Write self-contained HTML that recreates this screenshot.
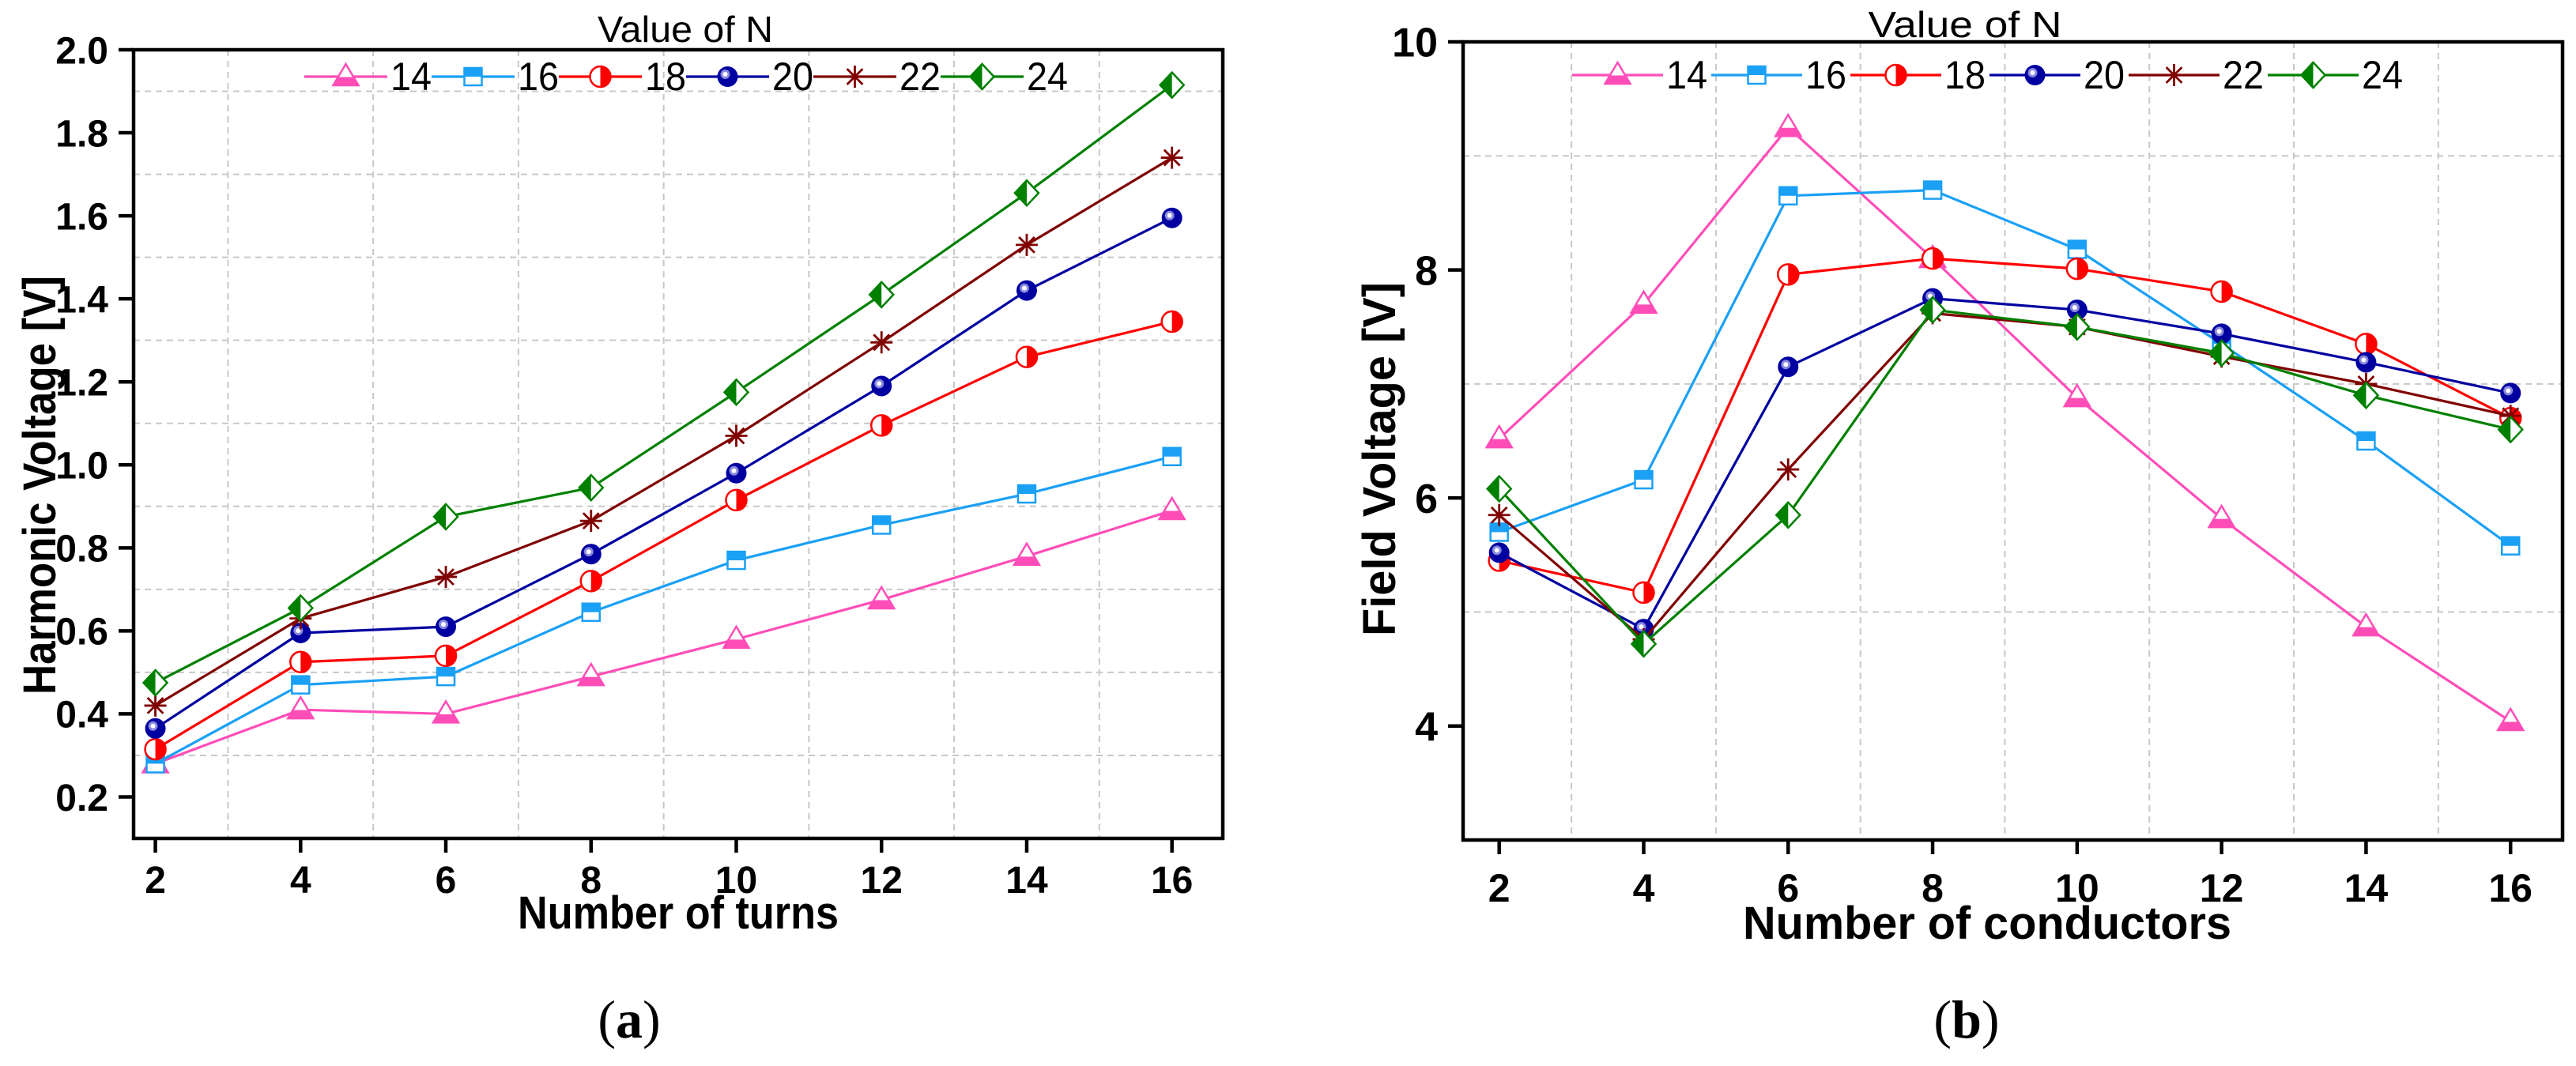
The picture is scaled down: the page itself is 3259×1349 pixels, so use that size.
<!DOCTYPE html>
<html><head><meta charset="utf-8">
<style>
html,body{margin:0;padding:0;background:#fff;}
svg{display:block;}
text{font-family:"Liberation Sans Narrow","Liberation Sans",sans-serif;}
</style></head>
<body>
<svg id="fig" width="3259" height="1349" viewBox="0 0 3259 1349" xmlns="http://www.w3.org/2000/svg"></svg>
<script>
// ---- data ----
const xValues = [2,4,6,8,10,12,14,16];
const seriesNames = ["14","16","18","20","22","24"];
const seriesColors = ["#ff4db8","#1aa0f5","#ff0000","#0000a0","#800000","#008000"];
const harm14 = [0.28,0.41,0.40,0.49,0.58,0.675,0.78,0.89];
const harm16 = [0.28,0.47,0.49,0.645,0.77,0.855,0.93,1.02];
const harm18 = [0.315,0.525,0.54,0.72,0.915,1.095,1.26,1.345];
const harm20 = [0.365,0.595,0.61,0.785,0.98,1.19,1.42,1.595];
const harm22 = [0.42,0.63,0.73,0.865,1.07,1.295,1.53,1.74];
const harm24 = [0.475,0.655,0.875,0.945,1.175,1.41,1.655,1.915];
const field14 = [6.52,7.70,9.25,8.10,6.88,5.82,4.87,4.04];
const field16 = [5.70,6.16,8.65,8.70,8.18,7.35,6.50,5.58];
const field18 = [5.45,5.17,7.96,8.10,8.01,7.81,7.35,6.70];
const field20 = [5.52,4.85,7.15,7.75,7.65,7.44,7.19,6.92];
const field22 = [5.85,4.76,6.25,7.62,7.50,7.24,7.00,6.72];
const field24 = [6.08,4.72,5.85,7.65,7.50,7.27,6.90,6.60];
const harmTicks = ["0.2","0.4","0.6","0.8","1.0","1.2","1.4","1.6","1.8","2.0"];
const fieldTicks = ["4","6","8","10"];
const xTicks = ["2","4","6","8","10","12","14","16"];

const NS="http://www.w3.org/2000/svg";
const svg=document.getElementById('fig');
function el(tag,attrs,parent){const e=document.createElementNS(NS,tag);for(const k in attrs)e.setAttribute(k,attrs[k]);(parent||svg).appendChild(e);return e;}

function drawChart(cfg){
  const g=el('g',{});
  
  
  const L=cfg.L,R=cfg.R,T=cfg.T,B=cfg.B;
  const sx=v=>L+(v-cfg.xmin)/(cfg.xmax-cfg.xmin)*(R-L);
  const sy=v=>B-(v-cfg.ymin)/(cfg.ymax-cfg.ymin)*(B-T);
  // grid
  const grid=el('g',{stroke:'#c8c8c8','stroke-width':2,'stroke-dasharray':'8,6'},g);
  
  
  for(let x=3;x<=15;x+=2) el('line',{x1:sx(x),x2:sx(x),y1:T,y2:B},grid);
  cfg.ygrid.forEach(v=>el('line',{x1:L,x2:R,y1:sy(v),y2:sy(v)},grid));
  // series
  cfg.data.forEach((arr,si)=>{
    const c=seriesColors[si];
    const sg=el('g',{},g);
    
    
    const pts=arr.map((v,i)=>sx(xValues[i])+','+sy(v)).join(' ');
    el('polyline',{points:pts,fill:'none',stroke:c,'stroke-width':3.2},sg);
    arr.forEach((v,i)=>{
      const m=marker(si,sx(xValues[i]),sy(v),sg);
      
      
    });
  });
  // frame
  const fr=el('rect',{x:L,y:T,width:R-L,height:B-T,fill:'none',stroke:'#000','stroke-width':4.5},g);
  
  
  // y ticks
  cfg.yticks.forEach(t=>{
    const y=sy(parseFloat(t));
    el('line',{x1:L-19,x2:L,y1:y,y2:y,stroke:'#000','stroke-width':4.5},g);
    const tx=el('text',{x:L-32,y:y+cfg.yfs*0.36,'text-anchor':'end','font-size':cfg.yfs,'font-weight':'bold'},g);
    tx.textContent=t;
    
    
  });
  xTicks.forEach(t=>{
    const x=sx(parseFloat(t));
    el('line',{x1:x,x2:x,y1:B,y2:B+18,stroke:'#000','stroke-width':4.5},g);
    const tx=el('text',{x:x,y:cfg.xlabY,'text-anchor':'middle','font-size':cfg.xfs,'font-weight':'bold'},g);
    tx.textContent=t;
    
    
  });
  // axis titles
  const xt=el('text',{x:cfg.xtX,y:cfg.xtY,'text-anchor':'middle','font-size':58,'font-weight':'bold',textLength:cfg.xtLen,lengthAdjust:'spacingAndGlyphs'},g);
  xt.textContent=cfg.xtitle;
  
  
  const yt=el('text',{x:0,y:0,'text-anchor':'middle','font-size':58,'font-weight':'bold',textLength:cfg.ytLen,lengthAdjust:'spacingAndGlyphs',transform:'translate('+cfg.ytX+','+cfg.ytY+') rotate(-90)'},g);
  yt.textContent=cfg.ytitle;
  
  
  // legend
  const lt=el('text',{x:cfg.legTitleX,y:cfg.legTitleY,'text-anchor':'middle','font-size':46,textLength:cfg.legTitleLen,lengthAdjust:'spacingAndGlyphs'},g);
  lt.textContent='Value of N';
  
  
  seriesNames.forEach((n,si)=>{
    const lg=el('g',{},g);
    
    
    const x0=cfg.legX+si*cfg.legStep, y0=cfg.legY;
    el('line',{x1:x0,x2:x0+cfg.legLine,y1:y0,y2:y0,stroke:seriesColors[si],'stroke-width':3.2},lg);
    marker(si,x0+cfg.legLine/2,y0,lg);
    const t=el('text',{x:x0+cfg.legLine+4,y:y0+17,'font-size':50,textLength:52,lengthAdjust:'spacingAndGlyphs'},lg);
    t.textContent=n;
  });
  // caption
  const cap=el('text',{x:cfg.capX,y:1313,'text-anchor':'middle','font-size':68,'font-family':'"Liberation Serif",serif'},g);
  cap.style.fontFamily='"Liberation Serif",serif';
  cap.innerHTML='(<tspan font-weight="bold">'+cfg.cap+'</tspan>)';
  
  
}

function marker(si,x,y,parent){
  const c=seriesColors[si];
  const g=el('g',{},parent);
  const r=13;
  if(si===0){ // triangle bottom half filled
    el('polygon',{points:`${x},${y-r-3} ${x-r-3},${y+r-2} ${x+r+3},${y+r-2}`,fill:'#fff',stroke:c,'stroke-width':2.5},g);
    el('polygon',{points:`${x-r/2-3},${y+0.5} ${x+r/2+3},${y+0.5} ${x+r+3},${y+r-2} ${x-r-3},${y+r-2}`,fill:c},g);
  } else if(si===1){ // square top half filled
    el('rect',{x:x-11,y:y-11,width:22,height:22,fill:'#fff',stroke:c,'stroke-width':2.5},g);
    el('rect',{x:x-11,y:y-11,width:22,height:11,fill:c},g);
  } else if(si===2){ // circle right half filled
    el('circle',{cx:x,cy:y,r:r,fill:'#fff',stroke:c,'stroke-width':2.5},g);
    el('path',{d:`M${x},${y-r} A${r},${r} 0 0 1 ${x},${y+r} Z`,fill:c},g);
  } else if(si===3){ // ball
    el('circle',{cx:x,cy:y,r:r,fill:c},g);
    el('circle',{cx:x-3,cy:y-3,r:6,fill:'#8888dd'},g);
    el('circle',{cx:x-3,cy:y-3,r:3,fill:'#fff'},g);
  } else if(si===4){ // asterisk
    let d='';
    for(let k=0;k<4;k++){const a=k*Math.PI/4;const dx=14*Math.cos(a),dy=14*Math.sin(a);d+=`M${x-dx},${y-dy}L${x+dx},${y+dy}`;}
    el('path',{d:d,stroke:c,'stroke-width':2.8,fill:'none'},g);
  } else { // diamond left half filled
    el('polygon',{points:`${x},${y-16} ${x+15},${y} ${x},${y+16} ${x-15},${y}`,fill:'#fff',stroke:c,'stroke-width':2.5},g);
    el('polygon',{points:`${x},${y-16} ${x},${y+16} ${x-15},${y}`,fill:c},g);
  }
  return g;
}

drawChart({name:'chart-a-harmonic-voltage',L:169,R:1547,T:63,B:1061,xmin:1.7,xmax:16.7,ymin:0.1,ymax:2.0,
  ygrid:[0.3,0.5,0.7,0.9,1.1,1.3,1.5,1.7,1.9],yticks:harmTicks,yfs:48,xfs:48,xlabY:1130,
  data:[harm14,harm16,harm18,harm20,harm22,harm24],
  xtitle:'Number of turns',xtX:858,xtY:1175,xtLen:406,
  ytitle:'Harmonic Voltage [V]',ytX:70,ytY:614,ytLen:530,
  legTitleX:867,legTitleY:53,legTitleLen:222,legX:385,legY:97,legStep:161,legLine:105,cap:'a',capX:796});
drawChart({name:'chart-b-field-voltage',L:1851,R:3242,T:53,B:1063,xmin:1.5,xmax:16.72,ymin:3,ymax:10,
  ygrid:[5,7,9],yticks:fieldTicks,yfs:52,xfs:50,xlabY:1141,
  data:[field14,field16,field18,field20,field22,field24],
  xtitle:'Number of conductors',xtX:2514,xtY:1188,xtLen:618,
  ytitle:'Field Voltage [V]',ytX:1765,ytY:581,ytLen:448,
  legTitleX:2486,legTitleY:47,legTitleLen:245,legX:1989,legY:95,legStep:176,legLine:115,cap:'b',capX:2488});
</script>
</body></html>
